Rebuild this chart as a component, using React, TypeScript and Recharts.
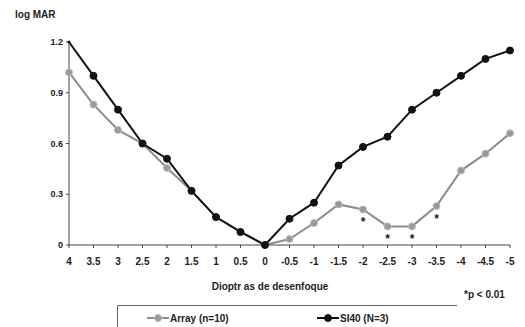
import React from "react";
import { LineChart, Line, XAxis, YAxis, LabelList } from "recharts";

// Defocus in dioptres, from +4 down to -5
const dioptres = ["4", "3.5", "3", "2.5", "2", "1.5", "1", "0.5", "0", "-0.5", "-1", "-1.5", "-2", "-2.5", "-3", "-3.5", "-4", "-4.5", "-5"];
// logMAR visual acuity per lens
const arrayValues = [1.02, 0.83, 0.68, 0.6, 0.455, 0.32, 0.165, 0.077, 0, 0.035, 0.13, 0.24, 0.21, 0.11, 0.11, 0.23, 0.44, 0.54, 0.66];
const si40Values = [1.2, 1.0, 0.8, 0.6, 0.51, 0.32, 0.165, 0.077, 0, 0.155, 0.25, 0.47, 0.58, 0.64, 0.8, 0.9, 1.0, 1.1, 1.15];
// Significant differences (*p < 0.01)
const significant = [false, false, false, false, false, false, false, false, false, false, false, false, true, true, true, true, false, false, false];
const yTicks = [0, 0.3, 0.6, 0.9, 1.2];

const data = dioptres.map((d, i) => ({
  d,
  array: arrayValues[i],
  si40: si40Values[i],
}));

const FONT = "'Liberation Sans', Arial, sans-serif";
const GRAY = "#8c8c8c";
const DARK = "#111";

const Star = (props: any) => {
  const { x, y, index } = props;
  if (!significant[index]) return null;
  return (
    <text x={x} y={y + 17} textAnchor="middle" fontSize={12} fontWeight="bold" fontFamily={FONT} fill="#222">
      *
    </text>
  );
};

// The SI40 marker at the top-left corner sits on the axis and is not drawn
const SiDot = (props: any) => {
  const { cx, cy, index } = props;
  if (index === 0) return <circle key={`d${index}`} cx={cx} cy={cy} r={1.5} fill={DARK} />;
  return <circle key={`d${index}`} cx={cx} cy={cy} r={3.5} fill={DARK} stroke={DARK} strokeWidth={1} />;
};

const LegendBox = () => (
  <svg width={340} height={22} style={{ position: "absolute", left: 117, top: 305 }}>
    <line x1={0.5} y1={0.5} x2={340} y2={0.5} stroke="#666" strokeWidth={1} />
    <line x1={0.5} y1={0.5} x2={0.5} y2={22} stroke="#666" strokeWidth={1} />
    <line x1={30} y1={13} x2={52} y2={13} stroke={GRAY} strokeWidth={2} />
    <circle cx={41} cy={13} r={3.5} fill="#999" stroke="#bbb" strokeWidth={1} />
    <text x={53} y={16.5} fontSize={10} fontWeight="bold" fontFamily={FONT} fill="#222">Array (n=10)</text>
    <line x1={200} y1={13} x2={222} y2={13} stroke={DARK} strokeWidth={2} />
    <circle cx={211} cy={13} r={3.5} fill={DARK} stroke={DARK} strokeWidth={1} />
    <text x={223} y={16.5} fontSize={10} fontWeight="bold" fontFamily={FONT} fill="#222">SI40 (N=3)</text>
  </svg>
);

export default function App() {
  return (
    <div style={{ position: "absolute", left: 0, top: 0, width: 525, height: 327, background: "#fff" }}>
      <LineChart
        width={525}
        height={327}
        data={data}
        margin={{ top: 42, right: 15, bottom: 62, left: 0 }}
      >
        <XAxis
          dataKey="d"
          axisLine={{ stroke: "#444", strokeWidth: 1 }}
          tickLine={{ stroke: "#444" }}
          tickSize={3}
          tickMargin={10}
          interval={0}
          tick={{ fontSize: 10, fontWeight: "bold", fontFamily: FONT, fill: "#222" }}
          height={20}
        />
        <YAxis
          domain={[0, 1.2]}
          ticks={yTicks}
          width={69}
          axisLine={{ stroke: "#444", strokeWidth: 1 }}
          tickLine={{ stroke: "#444" }}
          tickSize={3}
          tickMargin={3}
          tickFormatter={(v: number) => String(v)}
          tick={{ fontSize: 9, fontWeight: "bold", fontFamily: FONT, fill: "#222" }}
        />
        <Line
          dataKey="array"
          stroke={GRAY}
          strokeWidth={2}
          isAnimationActive={false}
          dot={{ r: 3.5, fill: "#999", stroke: "#bbb", strokeWidth: 1 }}
        >
          <LabelList dataKey="array" content={<Star />} />
        </Line>
        <Line
          dataKey="si40"
          stroke={DARK}
          strokeWidth={2}
          isAnimationActive={false}
          dot={<SiDot />}
        />
      </LineChart>
      <LegendBox />
      <div style={{ position: "absolute", left: 15, top: 9, fontFamily: FONT, fontSize: 10, fontWeight: "bold", color: "#222" }}>
        log MAR
      </div>
      <div style={{ position: "absolute", left: 200, top: 281, width: 140, textAlign: "center", fontFamily: FONT, fontSize: 10, fontWeight: "bold", color: "#222" }}>
        Dioptr as de desenfoque
      </div>
      <div style={{ position: "absolute", left: 464, top: 289, fontFamily: FONT, fontSize: 10, fontWeight: "bold", color: "#222" }}>
        *p &lt; 0.01
      </div>
    </div>
  );
}
